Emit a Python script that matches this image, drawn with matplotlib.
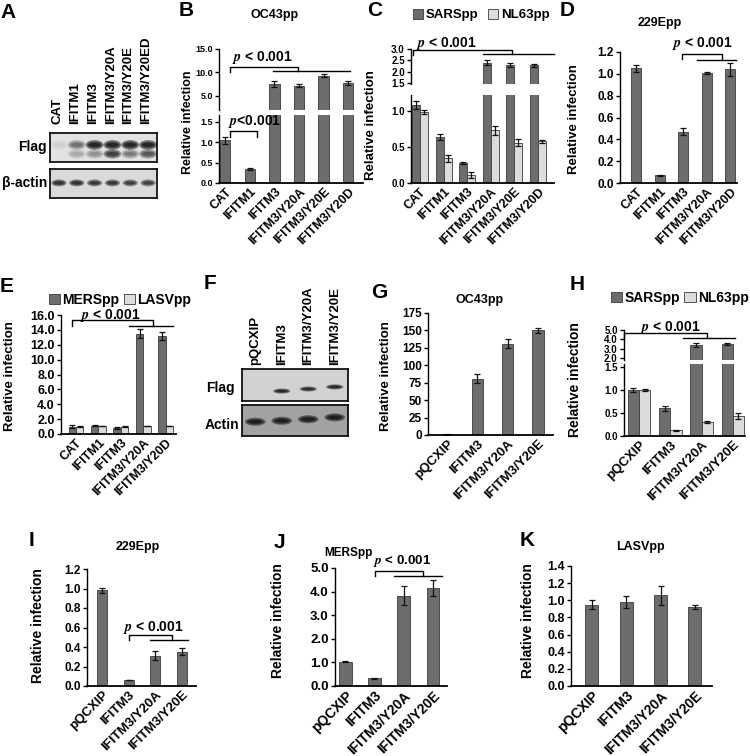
import numpy as np
import matplotlib
matplotlib.use("Agg")
import matplotlib.pyplot as plt
from matplotlib.patches import Ellipse

plt.rcParams["font.family"] = ["Liberation Sans", "DejaVu Sans"]
plt.rcParams["font.weight"] = "bold"
plt.rcParams["mathtext.fontset"] = "stix"

W, H = 750, 756
DARK = "#6d6d6d"
LIGHT = "#dcdcdc"
EDGE = "#3a3a3a"

# ---- data ----
cats_a = ["CAT", "IFITM1", "IFITM3", "IFITM3/Y20A", "IFITM3/Y20E", "IFITM3/Y20ED"]
cats_bc = ["CAT", "IFITM1", "IFITM3", "IFITM3/Y20A", "IFITM3/Y20E", "IFITM3/Y20D"]
cats_de = ["CAT", "IFITM1", "IFITM3", "IFITM3/Y20A", "IFITM3/Y20D"]
cats_f = ["pQCXIP", "IFITM3", "IFITM3/Y20A", "IFITM3/Y20E"]

# blot band intensities (0-1)
a_flag_upper = [0.05, 0.45, 1.0, 1.0, 1.0, 1.0]
a_flag_lower = [0.0, 0.2, 0.3, 0.75, 0.4, 0.6]
a_actin = [0.85, 0.85, 0.8, 0.8, 0.75, 0.75]
f_flag = [0.0, 0.95, 0.9, 0.95]
f_flag_pos = [0.31, 0.31, 0.375, 0.44]
f_actin = [0.95, 0.95, 0.95, 0.95]
f_actin_pos = [0.46, 0.49, 0.54, 0.60]

b_oc43 = [1.05, 0.35, 7.5, 7.2, 9.3, 7.8]
b_err = [0.08, 0.03, 0.6, 0.25, 0.35, 0.45]

c_sars = [1.08, 0.64, 0.28, 2.40, 2.30, 2.27]
c_sars_err = [0.05, 0.04, 0.01, 0.12, 0.09, 0.05]
c_nl63 = [0.98, 0.34, 0.11, 0.73, 0.56, 0.58]
c_nl63_err = [0.03, 0.05, 0.04, 0.06, 0.05, 0.02]

d_229e = [1.05, 0.07, 0.47, 1.01, 1.04]
d_err = [0.03, 0.005, 0.03, 0.01, 0.06]

e_mers = [1.0, 1.1, 0.85, 13.5, 13.2]
e_mers_err = [0.25, 0.05, 0.12, 0.6, 0.5]
e_lasv = [1.0, 1.05, 1.0, 1.05, 1.05]
e_lasv_err = [0.05, 0.03, 0.03, 0.03, 0.03]

g_oc43 = [1.0, 81, 131, 150]
g_err = [0.3, 6, 6, 4]

h_sars = [1.0, 0.60, 3.40, 3.55]
h_sars_err = [0.04, 0.05, 0.25, 0.10]
h_nl63 = [1.0, 0.12, 0.30, 0.44]
h_nl63_err = [0.02, 0.01, 0.02, 0.07]

i_229e = [0.98, 0.06, 0.31, 0.35]
i_err = [0.03, 0.003, 0.045, 0.035]

j_mers = [1.03, 0.32, 3.83, 4.15]
j_err = [0.03, 0.02, 0.40, 0.35]

k_lasv = [0.95, 0.98, 1.06, 0.92]
k_err = [0.05, 0.07, 0.11, 0.02]

fig = plt.figure(figsize=(W / 100, H / 100), dpi=100)


def px_ax(x0, y0, x1, y1):
    return fig.add_axes([x0 / W, 1 - y1 / H, (x1 - x0) / W, (y1 - y0) / H])


def ftext(x, y, s, **kw):
    fig.text(x / W, 1 - y / H, s, **kw)


def style(ax, ticks, fmt, size, bottom=True):
    ax.spines["top"].set_visible(False)
    ax.spines["right"].set_visible(False)
    ax.spines["left"].set_linewidth(1.0)
    if bottom:
        ax.spines["bottom"].set_linewidth(1.3)
    else:
        ax.spines["bottom"].set_visible(False)
    ax.set_yticks(ticks)
    ax.set_yticklabels([fmt % t for t in ticks], fontsize=size, fontweight="bold")
    ax.tick_params(axis="y", direction="out", length=3, width=1, pad=1.5)
    ax.tick_params(axis="x", length=0)


def draw_bars(ax, series, errs, colors, width, xlim, ylim):
    n = len(series)
    x = np.arange(len(series[0]))
    for k in range(n):
        off = (k - (n - 1) / 2) * width
        ax.bar(x + off, series[k], width, yerr=errs[k], color=colors[k], edgecolor=EDGE,
               linewidth=0.6, capsize=2.5,
               error_kw=dict(elinewidth=0.9, capthick=0.9, ecolor="#111111"))
    ax.set_xlim(*xlim)
    ax.set_ylim(*ylim)
    return x


def cat_labels(ax, x, cats, size=9):
    ax.set_xticks(x)
    ax.set_xticklabels(cats, rotation=45, ha="right", rotation_mode="anchor",
                       fontsize=size, fontweight="bold")
    ax.tick_params(axis="x", pad=2)


def bracket(ax, x0, x1, y, ylow, gx0, gx1, gy, tx, ty, label=r"$p$ < 0.001", size=10):
    ax.plot([x0, x0, x1, x1], [ylow, y, y, gy], color="k", lw=1, clip_on=False)
    ax.plot([gx0, gx1], [gy, gy], color="k", lw=1, clip_on=False)
    ax.text(tx, ty, label, ha="center", va="center", fontsize=size, fontweight="bold")


def blot(rect, bg, xs_int, ypos, w, h, n):
    ax = px_ax(*rect)
    ax.set_facecolor(bg)
    ax.set_xlim(-0.5, n - 0.5)
    ax.set_ylim(0, 1)
    ax.set_xticks([])
    ax.set_yticks([])
    for s in ax.spines.values():
        s.set_linewidth(1.2)
    for inten, yp in zip(xs_int, ypos):
        for i, (a, y) in enumerate(zip(inten, yp)):
            if a <= 0:
                continue
            for k in range(3):
                ax.add_patch(Ellipse((i, y), w * (1 - 0.18 * k), h * (1 - 0.3 * k),
                                     color="k", alpha=a * 0.45, lw=0))
    return ax


# ---- A: western blot ----
axa = blot((50, 133, 157, 162), "#e2e2e2", [a_flag_upper, a_flag_lower],
           [[0.59] * 6, [0.28] * 6], 1.0, 0.33, 6)
for i, s in enumerate(cats_a):
    axa.text(i - 0.1, 1.32, s, rotation=90, ha="center", va="bottom", fontsize=9.5,
             fontweight="bold", clip_on=False)
blot((50, 169, 157, 198), "#dadada", [a_actin], [[0.52] * 6], 0.85, 0.24, 6)
ftext(47, 147, "Flag", ha="right", va="center", fontsize=10)
ftext(47, 183, "β-actin", ha="right", va="center", fontsize=10)

# ---- B: OC43pp broken axis ----
bl = px_ax(219, 114.6, 363, 183)
bu = px_ax(219, 49, 363, 110)
for ax, yl in [(bl, (0, 1.68)), (bu, (2, 15))]:
    x = draw_bars(ax, [b_oc43], [b_err], [DARK], 0.42, (-0.25, 5.6), yl)
style(bl, [0, 0.5, 1.0, 1.5], "%.1f", 6.5)
style(bu, [5, 10, 15], "%.1f", 6.5, bottom=False)
bu.set_xticks([])
cat_labels(bl, x, cats_bc)
bracket(bu, 0.2, 2.97, 11.2, 10.1, 1.95, 5.08, 10.3, 1.5, 13.1)
bl.plot([0.2, 0.2, 1.3, 1.3], [1.13, 1.28, 1.28, 1.13], color="k", lw=1, clip_on=False)
bl.text(0.12, 1.5, r"$p$<0.001", ha="left", va="center", fontsize=10, fontweight="bold")
ftext(275, 15, "OC43pp", ha="center", va="center", fontsize=9)
ftext(188, 122, "Relative infection", rotation=90, ha="center", va="center", fontsize=9)

# ---- C: SARSpp / NL63pp broken axis ----
cl = px_ax(411, 95, 554, 183)
cu = px_ax(411, 49, 554, 84)
for ax, yl in [(cl, (0, 1.22)), (cu, (1.45, 3.0))]:
    x = draw_bars(ax, [c_sars, c_nl63], [c_sars_err, c_nl63_err], [DARK, LIGHT], 0.34,
                  (-0.38, 5.68), yl)
style(cl, [0, 0.5, 1.0], "%.1f", 7)
style(cu, [1.5, 2.0, 2.5, 3.0], "%.1f", 7, bottom=False)
cu.set_xticks([])
cat_labels(cl, x, cats_bc)
bracket(cu, -0.3, 3.9, 2.96, 2.74, 2.67, 5.68, 2.78, 1.14, 3.26)
ftext(371, 125, "Relative infection", rotation=90, ha="center", va="center", fontsize=9.5)
hc = [plt.Rectangle((0, 0), 1, 1, fc=DARK, ec=EDGE, lw=0.6),
      plt.Rectangle((0, 0), 1, 1, fc=LIGHT, ec=EDGE, lw=0.6)]
fig.legend(hc, ["SARSpp", "NL63pp"], ncol=2, loc="center", bbox_to_anchor=(481 / W, 1 - 15 / H),
           frameon=False, handlelength=0.8, handleheight=0.8, handletextpad=0.2,
           columnspacing=0.7, prop=dict(size=9.5, weight="bold"))

# ---- D: 229Epp ----
ad = px_ax(620, 52, 737, 183)
x = draw_bars(ad, [d_229e], [d_err], [DARK], 0.43, (-0.7, 4.3), (0, 1.2))
style(ad, np.arange(0, 1.21, 0.2), "%.1f", 8.5)
cat_labels(ad, x, cats_de)
bracket(ad, 1.97, 3.65, 1.18, 1.14, 2.58, 4.25, 1.13, 2.83, 1.28)
ftext(660, 23, "229Epp", ha="center", va="center", fontsize=9)
ftext(574, 119, "Relative infection", rotation=90, ha="center", va="center", fontsize=9.5)

# ---- E: MERSpp / LASVpp ----
ae = px_ax(61, 315, 176, 434)
x = draw_bars(ae, [e_mers, e_lasv], [e_mers_err, e_lasv_err], [DARK, LIGHT], 0.33,
              (-0.67, 4.46), (0, 16))
style(ae, np.arange(0, 16.1, 2), "%.1f", 9)
cat_labels(ae, x, cats_de)
bracket(ae, -0.18, 3.44, 15.3, 14.5, 2.37, 4.33, 14.5, 1.52, 16.0)
ftext(10, 376, "Relative infection", rotation=90, ha="center", va="center", fontsize=9.5)
fig.legend(hc, ["MERSpp", "LASVpp"], ncol=2, loc="center", bbox_to_anchor=(120 / W, 1 - 300 / H),
           frameon=False, handlelength=0.8, handleheight=0.8, handletextpad=0.2,
           columnspacing=0.3, prop=dict(size=10, weight="bold"))

# ---- F: western blot ----
axf = blot((242, 369, 348, 401), "#d2d2d2", [f_flag], [f_flag_pos], 0.65, 0.16, 4)
for i, s in enumerate(cats_f):
    axf.text(i, 1.12, s, rotation=90, ha="center", va="bottom", fontsize=9.5,
             fontweight="bold", clip_on=False)
blot((242, 405, 348, 436), "#a2a2a2", [f_actin], [f_actin_pos], 0.78, 0.26, 4)
ftext(235, 388, "Flag", ha="right", va="center", fontsize=10)
ftext(239, 425, "Actin", ha="right", va="center", fontsize=10)

# ---- G: OC43pp ----
ag = px_ax(428, 313, 553, 435)
x = draw_bars(ag, [g_oc43], [g_err], [DARK], 0.38, (-0.63, 3.5), (0, 175))
style(ag, np.arange(0, 176, 25), "%d", 8.5)
cat_labels(ag, x, cats_f, 9.5)
ftext(480, 300, "OC43pp", ha="center", va="center", fontsize=9)
ftext(386, 376, "Relative infection", rotation=90, ha="center", va="center", fontsize=9.5)

# ---- H: SARSpp / NL63pp broken axis ----
hl = px_ax(624, 364, 745, 436)
hu = px_ax(624, 330, 745, 360)
for ax, yl in [(hl, (0, 1.565)), (hu, (1.8, 5.0))]:
    x = draw_bars(ax, [h_sars, h_nl63], [h_sars_err, h_nl63_err], [DARK, LIGHT], 0.36,
                  (-0.48, 3.39), yl)
style(hl, [0, 0.5, 1.0, 1.5], "%.1f", 7)
style(hu, [2, 3, 4, 5], "%.1f", 7, bottom=False)
hu.set_xticks([])
cat_labels(hl, x, cats_f, 9.5)
bracket(hu, -0.48, 2.17, 4.68, 4.14, 1.41, 3.07, 4.14, 0.99, 5.3)
ftext(575, 380, "Relative infection", rotation=90, ha="center", va="center", fontsize=10)
fig.legend(hc, ["SARSpp", "NL63pp"], ncol=2, loc="center", bbox_to_anchor=(680 / W, 1 - 298 / H),
           frameon=False, handlelength=0.8, handleheight=0.8, handletextpad=0.2,
           columnspacing=0.3, prop=dict(size=10, weight="bold"))

# ---- I: 229Epp ----
ai = px_ax(87, 569, 196, 686)
x = draw_bars(ai, [i_229e], [i_err], [DARK], 0.37, (-0.56, 3.52), (0, 1.2))
style(ai, np.arange(0, 1.21, 0.2), "%.1f", 8.5)
cat_labels(ai, x, cats_f, 9.5)
bracket(ai, 1.01, 2.62, 0.52, 0.47, 1.8, 3.22, 0.47, 1.91, 0.6)
ftext(138, 547, "229Epp", ha="center", va="center", fontsize=9)
ftext(38, 626, "Relative infection", rotation=90, ha="center", va="center", fontsize=10)

# ---- J: MERSpp ----
aj = px_ax(335, 568, 447, 686)
x = draw_bars(aj, [j_mers], [j_err], [DARK], 0.43, (-0.35, 3.48), (0, 5))
style(aj, np.arange(0, 5.1, 1), "%.1f", 9.5)
cat_labels(aj, x, cats_f, 10)
bracket(aj, 1.02, 2.65, 4.87, 4.66, 1.68, 3.32, 4.66, 1.94, 5.28, size=9.5)
ftext(348, 553, "MERSpp", ha="center", va="center", fontsize=8.5)
ftext(278, 621, "Relative infection", rotation=90, ha="center", va="center", fontsize=10)

# ---- K: LASVpp ----
ak = px_ax(571, 566, 712, 686)
x = draw_bars(ak, [k_lasv], [k_err], [DARK], 0.38, (-0.61, 3.5), (0, 1.4))
style(ak, np.arange(0, 1.41, 0.2), "%.1f", 9)
cat_labels(ak, x, cats_f, 10)
ftext(640, 547, "LASVpp", ha="center", va="center", fontsize=9)
ftext(528, 621, "Relative infection", rotation=90, ha="center", va="center", fontsize=10)

# panel letters
for s, (px, py) in zip("ABCDEFGHIJK", [(8, 12), (186, 11), (375, 10), (567, 11), (7, 287),
                                       (210, 284), (379, 293), (577, 285), (31, 540),
                                       (279, 543), (527, 541)]):
    ftext(px, py, s, ha="center", va="center", fontsize=15, fontweight="bold")

fig.savefig("out.png", dpi=100)
